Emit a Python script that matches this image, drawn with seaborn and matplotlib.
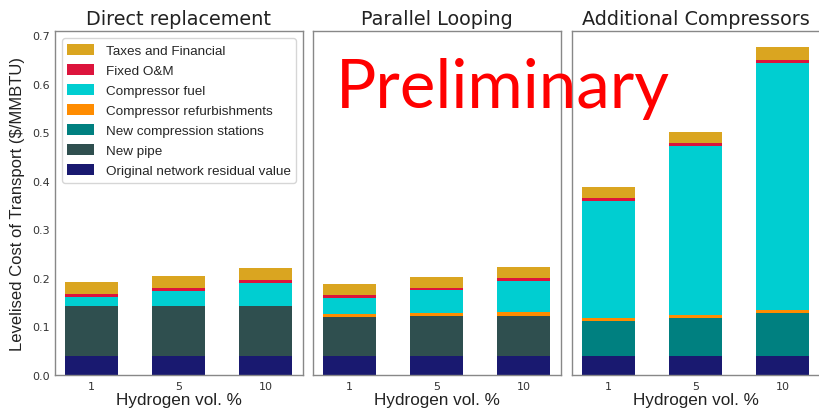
import numpy as np
import pandas as pd
import matplotlib
matplotlib.use("Agg")
import matplotlib.pyplot as plt
import seaborn as sns
from matplotlib.patches import Patch

# categories
scenarios = ["Direct replacement", "Parallel Looping", "Additional Compressors"]
h2_pct = ["1", "5", "10"]

# stack components, bottom -> top ($/MMBTU), one list per scenario
residual = {"Direct replacement": [0.039, 0.039, 0.039],
            "Parallel Looping": [0.039, 0.039, 0.039],
            "Additional Compressors": [0.039, 0.039, 0.039]}
new_pipe = {"Direct replacement": [0.1025, 0.1025, 0.1025],
            "Parallel Looping": [0.0805, 0.082, 0.083],
            "Additional Compressors": [0.0, 0.0, 0.0]}
new_stations = {"Direct replacement": [0.0, 0.0, 0.0],
                "Parallel Looping": [0.0, 0.0, 0.0],
                "Additional Compressors": [0.073, 0.078, 0.088]}
refurb = {"Direct replacement": [0.0, 0.0, 0.0],
          "Parallel Looping": [0.0062, 0.0068, 0.0068],
          "Additional Compressors": [0.0062, 0.0068, 0.0062]}
comp_fuel = {"Direct replacement": [0.020, 0.031, 0.0475],
             "Parallel Looping": [0.033, 0.0468, 0.0639],
             "Additional Compressors": [0.2404, 0.347, 0.5084]}
fixed_om = {"Direct replacement": [0.0062, 0.0062, 0.0061],
            "Parallel Looping": [0.0062, 0.0048, 0.0062],
            "Additional Compressors": [0.0062, 0.0062, 0.0075]}
taxes = {"Direct replacement": [0.0247, 0.0248, 0.0248],
         "Parallel Looping": [0.0233, 0.0227, 0.0227],
         "Additional Compressors": [0.0213, 0.024, 0.0255]}

components = [
    ("Original network residual value", residual, "#191970"),
    ("New pipe", new_pipe, "#2F4F4F"),
    ("New compression stations", new_stations, "#008080"),
    ("Compressor refurbishments", refurb, "#FF8C00"),
    ("Compressor fuel", comp_fuel, "#00CED1"),
    ("Fixed O&M", fixed_om, "#DC143C"),
    ("Taxes and Financial", taxes, "#DAA520"),
]

sns.set_style("white")
plt.rcParams["font.family"] = ["DejaVu Sans"]

fig = plt.figure(figsize=(8.19, 4.10), dpi=100)
panel_w = 248 / 819
lefts = [55 / 819, 313 / 819, 572 / 819]
bottom = 1 - 376 / 410
height = (376 - 32) / 410

label_font = "Liberation Sans"
axes = []
for i, scen in enumerate(scenarios):
    ax = fig.add_axes([lefts[i], bottom, panel_w, height])
    axes.append(ax)
    # cumulative heights, drawn tallest first so the lower stacks cover them
    cum = np.zeros(len(h2_pct))
    cums = []
    for name, data, color in components:
        cum = cum + np.array(data[scen])
        cums.append((name, cum.copy(), color))
    for name, c, color in reversed(cums):
        df = pd.DataFrame({"h2": h2_pct, "cost": c})
        sns.barplot(data=df, x="h2", y="cost", order=h2_pct, color=color,
                    width=0.6, linewidth=0, saturation=1, ax=ax)
    ax.set_xlim(-0.42, 2.43)
    ax.set_ylim(0, 0.7083)
    ax.set_yticks(np.arange(0, 0.71, 0.1))
    ax.set_title(scen, fontsize=13.9, color="#222222", pad=5)
    ax.set_xlabel("Hydrogen vol. %", fontsize=12.3, family=label_font, color="#222222", labelpad=1)
    ax.tick_params(axis="both", direction="in", length=3, width=0.8, colors="#444444",
                   labelsize=8, labelcolor="#333333")
    ax.tick_params(axis="x", length=0, pad=4)
    if i == 0:
        ax.set_yticklabels([f"{v:.1f}" for v in np.arange(0, 0.71, 0.1)])
        ax.set_ylabel("Levelised Cost of Transport ($/MMBTU)", fontsize=12,
                      family=label_font, color="#222222", labelpad=5)
    else:
        ax.set_yticklabels([])
        ax.set_ylabel("")
    for sp in ax.spines.values():
        sp.set_color("#888888")
        sp.set_linewidth(1.0)

handles = [Patch(facecolor=color, edgecolor="none", label=name)
           for name, _, color in reversed(components)]
axes[0].legend(handles=handles, loc="upper left", bbox_to_anchor=(0.012, 0.99),
               prop={"family": label_font, "size": 9.7}, frameon=True,
               edgecolor="#cccccc", handlelength=2.0, handleheight=0.85,
               labelspacing=0.52, borderpad=0.4, handletextpad=0.85,
               borderaxespad=0.3)

fig.text(0.6136, 1 - 108 / 410, "Preliminary", color="red", fontsize=48.5, family="Lato",
         ha="center", va="baseline")

fig.savefig("out.png", dpi=100)
